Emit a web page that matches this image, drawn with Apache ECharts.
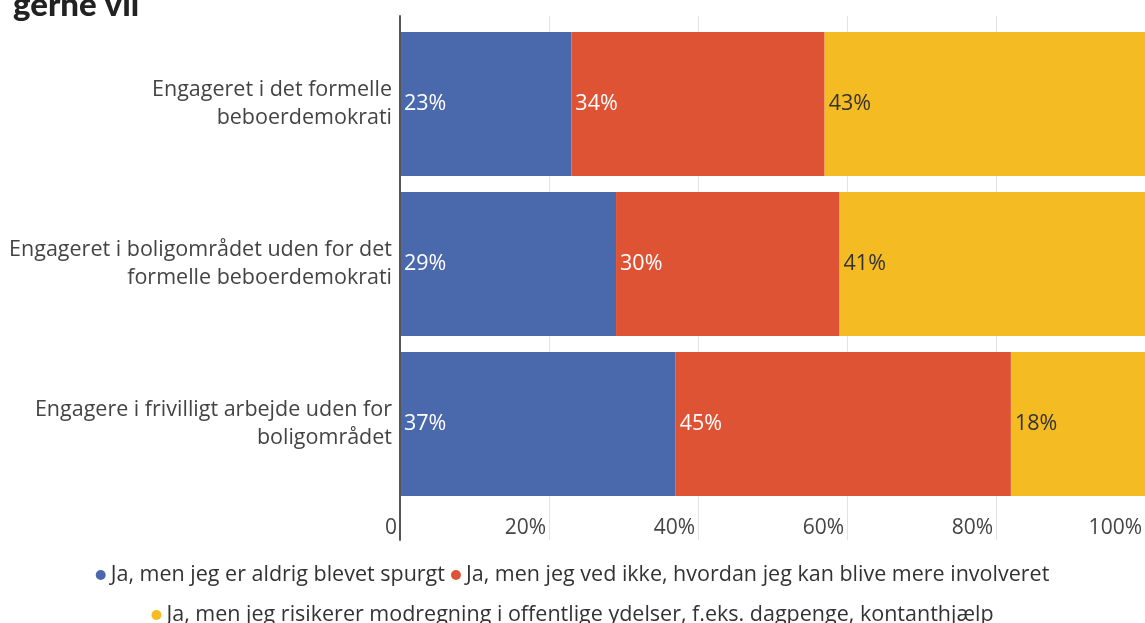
<!DOCTYPE html>
<html>
<head>
<meta charset="utf-8">
<script src="https://cdn.jsdelivr.net/npm/echarts@6/dist/echarts.min.js"></script>
<style>
  html, body { margin: 0; padding: 0; background: #fff; }
  #main { width: 1145px; height: 623px; }
</style>
</head>
<body>
<div id="main"></div>
<script>
let categories = [
  'Engageret i det formelle\nbeboerdemokrati',
  'Engageret i boligområdet uden for det\nformelle beboerdemokrati',
  'Engagere i frivilligt arbejde uden for\nboligområdet'
]
let seriesNames = [
  'Ja, men jeg er aldrig blevet spurgt',
  'Ja, men jeg ved ikke, hvordan jeg kan blive mere involveret',
  'Ja, men jeg risikerer modregning i offentlige ydelser, f.eks. dagpenge, kontanthjælp'
]
let neverAsked = [23, 29, 37]
let dontKnowHow = [34, 30, 45]
let riskOffset = [43, 41, 18]
let tickValues = [0, 20, 40, 60, 80, 100]

let colors = ['#4a68ac', '#df5335', '#f5bb22']
let font = '"Open Sans", Lato, sans-serif'

function makeSeries(name, data, color, labelColor) {
  return {
    name,
    type: 'bar',
    stack: 'total',
    xAxisIndex: 1,
    yAxisIndex: 1,
    barWidth: 144,
    data,
    itemStyle: { color },
    label: {
      show: true,
      position: 'insideLeft',
      distance: 4,
      formatter: '{c}%',
      color: labelColor,
      fontFamily: font,
      fontSize: 21.5
    }
  }
}

let chart = echarts.init(document.getElementById('main'))

chart.setOption({
  animation: false,
  textStyle: { fontFamily: font },
  title: {
    text: 'gerne vil',
    left: 8,
    top: -16,
    textStyle: { fontFamily: 'Lato, sans-serif', fontWeight: 900, fontSize: 33, color: '#222' }
  },
  legend: [
    {
      data: seriesNames.slice(0, 2),
      left: 'center',
      top: 559,
      icon: 'circle',
      itemWidth: 10,
      itemHeight: 10,
      itemGap: 6,
      textStyle: { fontFamily: font, fontSize: 21.5, color: '#333' }
    },
    {
      data: seriesNames.slice(2),
      left: 'center',
      top: 599,
      icon: 'circle',
      itemWidth: 10,
      itemHeight: 10,
      textStyle: { fontFamily: font, fontSize: 21.5, color: '#333' }
    }
  ],
  // grid 0 holds the long grid lines and axis, grid 1 holds the bars
  grid: [
    { left: 400, right: 0, top: 16, bottom: 83 },
    { left: 400, right: 0, top: 24, bottom: 119 }
  ],
  xAxis: [
    {
      gridIndex: 0,
      type: 'value',
      min: tickValues[0],
      max: tickValues[tickValues.length - 1],
      interval: 20,
      axisLine: { show: false },
      axisTick: { show: false },
      splitLine: { lineStyle: { color: '#e3e3e3', width: 1 } },
      axisLabel: {
        inside: true,
        margin: 1,
        align: 'right',
        padding: [0, 3, 0, 0],
        fontSize: 21,
        color: '#444',
        formatter: v => v === 0 ? '0' : v + '%'
      }
    },
    {
      gridIndex: 1,
      type: 'value',
      min: 0,
      max: 100,
      show: false
    }
  ],
  yAxis: [
    {
      gridIndex: 0,
      type: 'value',
      min: 0,
      max: 1,
      z: 5,
      axisLine: { show: true, lineStyle: { color: '#555', width: 2 } },
      axisTick: { show: false },
      axisLabel: { show: false },
      splitLine: { show: false }
    },
    {
      gridIndex: 1,
      type: 'category',
      inverse: true,
      data: categories,
      axisLine: { show: false },
      axisTick: { show: false },
      axisLabel: {
        margin: 8,
        fontSize: 21.5,
        lineHeight: 28,
        align: 'right',
        color: '#444',
        padding: [4, 0, 0, 0]
      }
    }
  ],
  series: [
    makeSeries(seriesNames[0], neverAsked, colors[0], '#fff'),
    makeSeries(seriesNames[1], dontKnowHow, colors[1], '#fff'),
    makeSeries(seriesNames[2], riskOffset, colors[2], '#333')
  ]
})
</script>
</body>
</html>
